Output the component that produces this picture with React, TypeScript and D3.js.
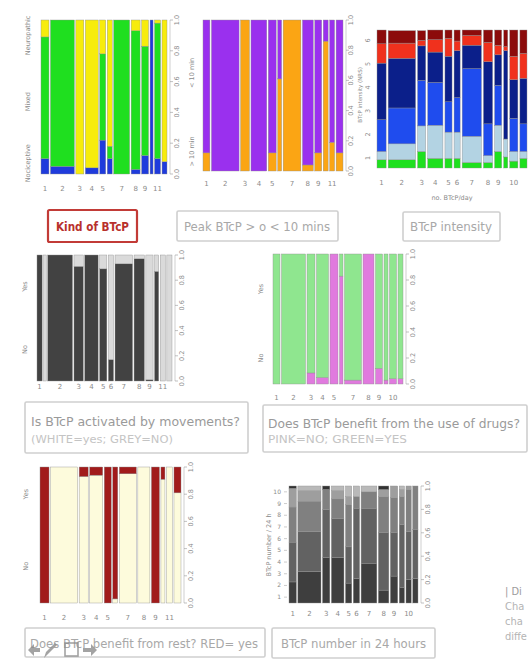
import { cumsum, scaleLinear, sum } from "d3";

// Kind of BTcP (bottom -> top)
const kindCounts = [8, 24, 8, 13, 6, 5, 16, 9, 7, 3, 6, 5];
const kindNociceptive = [0.1, 0.05, 0, 0.04, 0.22, 0.1, 0, 0.03, 0.12, 1, 0.1, 0.08];
const kindMixed = [0.79, 0.95, 0, 0, 0.56, 0.08, 1, 0.9, 0.71, 0, 0.88, 0];
const kindNeuropathic = [0.11, 0, 1, 0.96, 0.22, 0.82, 0, 0.07, 0.17, 0, 0.02, 0.92];
const kindXLabels = ["1", "2", "3", "4", "5", "", "7", "8", "9", "", "11", ""];

// Peak BTcP > o < 10 mins
const peakCounts = [7, 28, 9, 16, 8, 4, 18, 11, 7, 5, 5, 7];
const peakLong = [0.12, 0, 1, 0, 0.12, 0.61, 1, 0.04, 0.12, 0.86, 0.19, 0.12];
const peakShort = [0.88, 1, 0, 1, 0.88, 0.39, 0, 0.96, 0.88, 0.14, 0.81, 0.88];
const peakXLabels = ["1", "2", "3", "4", "5", "", "7", "8", "9", "", "11", ""];

// BTcP intensity
const intCounts = [9, 27, 8, 15, 7, 6, 19, 9, 7, 4, 8, 7];
const int1 = [0.06, 0.06, 0.12, 0.07, 0.07, 0.07, 0.04, 0.04, 0.12, 0.08, 0.05, 0.07];
const int2 = [0.06, 0.115, 0.185, 0.24, 0.19, 0.19, 0.19, 0.05, 0.19, 0.13, 0.07, 0.05];
const int3 = [0.23, 0.26, 0.33, 0.31, 0.22, 0.25, 0.49, 0.23, 0.29, 0, 0.24, 0.2];
const int4 = [0.41, 0.36, 0.25, 0.22, 0.33, 0.34, 0.17, 0.45, 0.22, 0.64, 0.28, 0.33];
const int5 = [0.14, 0.11, 0.04, 0.09, 0.13, 0.07, 0.07, 0.14, 0.07, 0.03, 0.17, 0.18];
const int6 = [0.1, 0.09, 0.07, 0.07, 0.06, 0.08, 0.04, 0.09, 0.11, 0.12, 0.19, 0.17];
const intXLabels = ["1", "2", "3", "4", "5", "6", "7", "8", "9", "", "10", ""];
const intLevels = ["1", "2", "3", "4", "5", "6"];

// Is BTcP activated by movements?
const moveCounts = [5, 2.5, 24, 9, 13, 7, 5, 17, 10, 7, 4, 5, 5];
const moveNo = [1, 0, 1, 0.91, 1, 0.89, 0.17, 0.93, 0.97, 0.01, 0.87, 0, 0];
const moveYes = [0, 1, 0, 0.09, 0, 0.11, 0.83, 0.07, 0.03, 0.99, 0.13, 1, 1];
const moveXLabels = ["1", "", "2", "3", "4", "5", "6", "7", "8", "9", "", "11", ""];

// Does BTcP benefit from the use of drugs?
const drugCounts = [7, 24, 8, 12, 8, 3.5, 17, 11, 7, 4, 7, 5];
const drugNo = [0, 0, 0.085, 0.05, 1, 0.83, 0.03, 1, 0.12, 0.03, 0.04, 0.04];
const drugYes = [1, 1, 0.915, 0.95, 0, 0.17, 0.97, 0, 0.88, 0.97, 0.96, 0.96];
const drugXLabels = ["1", "2", "3", "4", "5", "", "7", "8", "9", "", "10", ""];

// Does BTcP benefit from rest?
const restCounts = [9, 27, 9, 13, 7, 5, 17, 12, 8, 4, 6, 7];
const restNo = [0, 1, 0.93, 0.94, 0, 0.03, 0.95, 1, 0, 0.91, 1, 0.81];
const restYes = [1, 0, 0.07, 0.06, 1, 0.97, 0.05, 0, 1, 0.09, 0, 0.19];
const restXLabels = ["1", "2", "3", "4", "5", "", "7", "8", "9", "", "11", ""];

// BTcP number in 24 hours
const numCounts = [7, 22, 7, 12, 6, 6, 15, 10, 7, 5, 5, 5];
const num1 = [0.18, 0.27, 0.39, 0.39, 0.17, 0.21, 0.34, 0.11, 0.23, 0.13, 0.2, 0.21];
const num2 = [0.34, 0.34, 0.41, 0.33, 0.31, 0.6, 0.47, 0.49, 0.37, 0.54, 0.41, 0.42];
const num3 = [0.3, 0.26, 0.17, 0.17, 0.36, 0.1, 0.14, 0.31, 0.3, 0.24, 0.36, 0.37];
const num4 = [0.16, 0.09, 0, 0.07, 0.07, 0, 0, 0.06, 0.1, 0.06, 0.03, 0];
const num5 = [0, 0.04, 0, 0.04, 0.09, 0.09, 0.05, 0, 0, 0.03, 0, 0];
const num6 = [0.02, 0, 0.03, 0, 0, 0, 0, 0.03, 0, 0, 0, 0];
const numXLabels = ["1", "2", "3", "4", "5", "6", "7", "8", "9", "", "10", ""];
const numLevels = ["1", "2", "3", "4", "5", "6", "7", "8", "9", "10"];

// cut-off text at the right edge of the slide
const sideLines = ["| Di", "Cha", "cha", "diffe"];

const tickColor = "#8a8a8a";
const capFont = "'Liberation Sans Narrow', 'DejaVu Sans Condensed', sans-serif";

type SpineProps = {
  x: number;
  y: number;
  w: number;
  h: number;
  counts: number[];
  series: number[][];
  colors: string[];
  xLabels: string[];
  labelY: number;
  gap?: number;
  leftX?: number;
  leftLabels?: { text: string; at: number }[];
  rightAxis?: boolean;
  rightOffset?: number;
};

const SpinePlot = ({ x, y, w, h, counts, series, colors, xLabels, labelY, gap = 1.5, leftX, leftLabels = [], rightAxis = true, rightOffset = 12 }: SpineProps) => {
  const n = counts.length;
  const starts = [0, ...Array.from(cumsum(counts)).slice(0, -1)];
  const xScale = scaleLinear()
    .domain([0, sum(counts)])
    .range([0, w - gap * (n - 1)]);
  const yScale = scaleLinear().domain([0, 1]).range([y + h, y]);

  return (
    <g>
      {counts.map((c, i) => {
        const cx = x + xScale(starts[i]) + i * gap;
        const cw = xScale(c);
        let acc = 0;
        return (
          <g key={`col-${i}`}>
            {series.map((vals, k) => {
              const v = vals[i];
              const y0 = acc;
              acc += v;
              if (v <= 0) return null;
              return (
                <rect
                  key={k}
                  x={cx}
                  y={yScale(Math.min(1, y0 + v))}
                  width={cw}
                  height={yScale(y0) - yScale(Math.min(1, y0 + v))}
                  fill={colors[k]}
                  stroke="#8f8f8f"
                  strokeWidth={0.4}
                />
              );
            })}
            {xLabels[i] && (
              <text x={cx + cw / 2} y={labelY} fontSize={7} fill={tickColor} textAnchor="middle">
                {xLabels[i]}
              </text>
            )}
          </g>
        );
      })}
      {leftX !== undefined &&
        leftLabels.map((l, i) => (
          <text
            key={`ll-${i}`}
            transform={`translate(${leftX},${yScale(l.at)}) rotate(-90)`}
            fontSize={6.5}
            fill={tickColor}
            textAnchor="middle"
          >
            {l.text}
          </text>
        ))}
      {rightAxis && (
        <g>
          <line x1={x + w + 3} x2={x + w + 3} y1={yScale(0)} y2={yScale(1)} stroke="#b0b0b0" strokeWidth={0.6} />
          {yScale.ticks(5).map((t) => (
            <g key={`rt-${t}`}>
              <line x1={x + w + 3} x2={x + w + 6} y1={yScale(t)} y2={yScale(t)} stroke="#999" strokeWidth={0.6} />
              <text
                transform={`translate(${x + w + rightOffset},${yScale(t)}) rotate(-90)`}
                fontSize={6.5}
                fill={tickColor}
                textAnchor="middle"
              >
                {t === 0 ? "0.0" : t === 1 ? "1.0" : t.toFixed(1)}
              </text>
            </g>
          ))}
        </g>
      )}
    </g>
  );
};

type CapLine = { text: string; x: number; y: number; len: number; size: number; color: string; weight?: string };

const Caption = ({ x, y, w, h, lines, stroke = "#cfcfcf", strokeWidth = 1.6 }: { x: number; y: number; w: number; h: number; lines: CapLine[]; stroke?: string; strokeWidth?: number }) => (
  <g>
    <rect x={x} y={y} width={w} height={h} fill="#fff" stroke={stroke} strokeWidth={strokeWidth} rx={1.5} />
    {lines.map((l, i) => (
      <text
        key={i}
        x={l.x}
        y={l.y}
        fontSize={l.size}
        fill={l.color}
        fontWeight={l.weight ?? "normal"}
        fontFamily={capFont}
        textLength={l.len}
        lengthAdjust="spacingAndGlyphs"
      >
        {l.text}
      </text>
    ))}
  </g>
);

const App = () => {
  const width = 528;
  const height = 663;
  const numY = scaleLinear().domain([0.5, 10.5]).range([603, 486]);

  return (
    <div style={{ position: "absolute", left: 0, top: 0 }}>
      <svg width={width} height={height} style={{ display: "block", background: "#fff" }} fontFamily="'DejaVu Sans', sans-serif">
        <rect width={width} height={height} fill="#fff" />

        {/* row 1 */}
        <SpinePlot
          x={41}
          y={20}
          w={126}
          h={154}
          counts={kindCounts}
          series={[kindNociceptive, kindMixed, kindNeuropathic]}
          colors={["#1f3bdc", "#1fdf1f", "#f7ec0c"]}
          xLabels={kindXLabels}
          labelY={191}
          leftX={30}
          leftLabels={[
            { text: "Nociceptive", at: 0.07 },
            { text: "Mixed", at: 0.47 },
            { text: "Neuropathic", at: 0.9 },
          ]}
        />
        <SpinePlot
          x={203}
          y={20}
          w={140}
          h={151}
          counts={peakCounts}
          series={[peakLong, peakShort]}
          colors={["#fba514", "#9a30ee"]}
          xLabels={peakXLabels}
          labelY={186}
          leftX={194}
          rightOffset={10}
          leftLabels={[
            { text: "> 10 min", at: 0.13 },
            { text: "< 10 min", at: 0.65 },
          ]}
        />
        <SpinePlot
          x={377}
          y={30}
          w={150}
          h={138}
          gap={2}
          counts={intCounts}
          series={[int1, int2, int3, int4, int5, int6]}
          colors={["#1ee01e", "#b3d3e3", "#1f4cee", "#0b1f8a", "#f0311d", "#8c0b0b"]}
          xLabels={intXLabels}
          labelY={185}
          rightAxis={false}
        />
        {intLevels.map((l, i) => (
          <text
            key={`il-${l}`}
            transform={`translate(370,${158 - i * 23.5}) rotate(-90)`}
            fontSize={6.5}
            fill={tickColor}
            textAnchor="middle"
          >
            {l}
          </text>
        ))}
        <text transform="translate(362,95) rotate(-90)" fontSize={5.5} fill={tickColor} textAnchor="middle">
          BTcP intensity (NRS)
        </text>
        <text x={452} y={200} fontSize={6.5} fill={tickColor} textAnchor="middle">
          no. BTcP/day
        </text>

        <Caption
          x={48}
          y={210}
          w={89}
          h={32}
          stroke="#c23b37"
          strokeWidth={2.2}
          lines={[{ text: "Kind of BTcP", x: 56, y: 231, len: 73, size: 12, color: "#b8302c", weight: "bold" }]}
        />
        <Caption
          x={177}
          y={211}
          w={161}
          h={30}
          lines={[{ text: "Peak BTcP > o < 10 mins", x: 184, y: 231, len: 146, size: 12, color: "#a8a8a8" }]}
        />
        <Caption
          x={403}
          y={212}
          w={97}
          h={29}
          lines={[{ text: "BTcP intensity", x: 410, y: 231, len: 82, size: 12, color: "#a8a8a8" }]}
        />

        {/* row 2 */}
        <SpinePlot
          x={37}
          y={255}
          w={135}
          h={126}
          counts={moveCounts}
          series={[moveNo, moveYes]}
          colors={["#424242", "#dadada"]}
          xLabels={moveXLabels}
          labelY={389}
          leftX={27}
          leftLabels={[
            { text: "No", at: 0.25 },
            { text: "Yes", at: 0.75 },
          ]}
        />
        <Caption
          x={25}
          y={402}
          w={223}
          h={51}
          lines={[
            { text: "Is BTcP activated by movements?", x: 31, y: 426, len: 209, size: 13, color: "#9a9a9a" },
            { text: "(WHITE=yes; GREY=NO)", x: 31, y: 443, len: 142, size: 10.5, color: "#c4c4c4" },
          ]}
        />
        <SpinePlot
          x={273}
          y={254}
          w={130}
          h={130}
          counts={drugCounts}
          series={[drugNo, drugYes]}
          colors={["#e07ade", "#8fe68f"]}
          xLabels={drugXLabels}
          labelY={400}
          leftX={263}
          leftLabels={[
            { text: "No", at: 0.2 },
            { text: "Yes", at: 0.73 },
          ]}
        />
        <Caption
          x={263}
          y={405}
          w={264}
          h={47}
          lines={[
            { text: "Does BTcP benefit from the use of drugs?", x: 268, y: 428, len: 252, size: 13, color: "#9a9a9a" },
            { text: "PINK=NO; GREEN=YES", x: 268, y: 443, len: 139, size: 10.5, color: "#c4c4c4" },
          ]}
        />

        {/* row 3 */}
        <SpinePlot
          x={40}
          y={467}
          w={141}
          h={136}
          counts={restCounts}
          series={[restNo, restYes]}
          colors={["#fdfbdc", "#a11b1b"]}
          xLabels={restXLabels}
          labelY={620}
          leftX={28}
          leftLabels={[
            { text: "No", at: 0.27 },
            { text: "Yes", at: 0.8 },
          ]}
        />
        <Caption
          x={25}
          y={628}
          w={240}
          h={29}
          lines={[{ text: "Does BTcP benefit from rest? RED= yes", x: 30, y: 648, len: 228, size: 12, color: "#a8a8a8" }]}
        />
        {/* slideshow toolbar icons */}
        <g fill="#8d8d8d" opacity={0.8}>
          <path d="M28,650 L34,644 L34,648 L40,648 L40,652 L34,652 L34,656 Z" />
          <path d="M44,658 L46,652 L55,643 L57,645 L48,654 Z" />
          <rect x={65} y={643} width={13} height={13} fill="none" stroke="#8d8d8d" strokeWidth={1.6} />
          <path d="M97,650 L91,644 L91,648 L83,648 L83,652 L91,652 L91,656 Z" />
        </g>

        <SpinePlot
          x={289}
          y={486}
          w={129}
          h={117}
          counts={numCounts}
          series={[num1, num2, num3, num4, num5, num6]}
          colors={["#3e3e3e", "#626262", "#808080", "#9e9e9e", "#b9b9b9", "#333333"]}
          xLabels={numXLabels}
          labelY={616}
        />
        {numLevels.map((l, i) => (
          <g key={`nl-${l}`}>
            <line x1={284} x2={287} y1={numY(i + 1)} y2={numY(i + 1)} stroke="#aaa" strokeWidth={0.6} />
            <text x={281} y={numY(i + 1) + 2} fontSize={6} fill={tickColor} textAnchor="end">
              {l}
            </text>
          </g>
        ))}
        <text transform="translate(271,545) rotate(-90)" fontSize={6.5} fill={tickColor} textAnchor="middle">
          BTcP number / 24 h
        </text>
        <Caption
          x={272}
          y={628}
          w={163}
          h={30}
          lines={[{ text: "BTcP number in 24 hours", x: 281, y: 648, len: 145, size: 12, color: "#a8a8a8" }]}
        />

        {/* cut-off side text */}
        <g fontFamily={capFont} fill="#b4b4b4" fontSize={11}>
          {sideLines.map((s, i) => (
            <text key={s} x={505} y={595 + i * 15} fill={i === 0 ? "#9c9c9c" : "#b4b4b4"}>
              {s}
            </text>
          ))}
        </g>
      </svg>
    </div>
  );
};

export default App;
